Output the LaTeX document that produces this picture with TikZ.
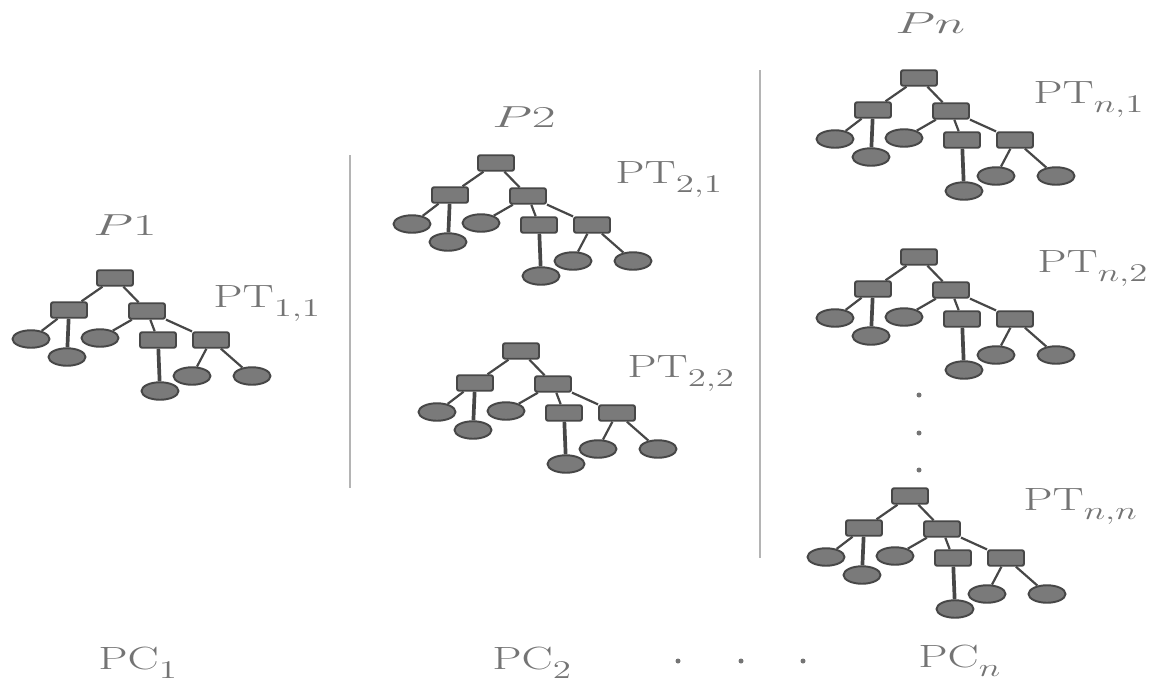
\documentclass[tikz,border=0pt]{standalone}
\usepackage{graphicx}
\usetikzlibrary{shapes.geometric}
\definecolor{labelgray}{HTML}{747474}
\definecolor{nodefill}{HTML}{7A7A7A}
\definecolor{nodeedge}{HTML}{474747}
\definecolor{sepgray}{HTML}{B4B4B4}
\tikzset{
  inner/.style={draw=nodeedge, fill=nodefill, line width=1.1pt, rectangle,
    rounded corners=1.2pt, minimum width=0.72cm, minimum height=0.31cm, inner sep=0pt},
  leaf/.style={draw=nodeedge, fill=nodefill, line width=1.1pt, ellipse,
    minimum width=0.74cm, minimum height=0.35cm, inner sep=0pt},
  branch/.style={draw=nodeedge, line width=1.25pt},
  stem/.style={draw=nodeedge, line width=2.1pt},
  lbl/.style={text=labelgray, anchor=base west, inner sep=0pt,
    font=\fontsize{18.3}{22}\selectfont},
  sep/.style={draw=sepgray, line width=1.1pt},
  dotmark/.style={circle, fill=labelgray, minimum size=0.1cm, inner sep=0pt}
}
% wide label lettering
\newcommand{\widetxt}[2][1.45]{\scalebox{#1}[1]{#2}}
% label with a lowered subscript
\newcommand{\sublab}[2]{\widetxt{#1\raisebox{-5.5pt}{\fontsize{14.5}{15}\selectfont #2}}}
% one parse tree, root at (#2,#3), node names prefixed by #1
\newcommand{\ptree}[3]{%
  \begin{scope}[shift={(#2,#3)}]
    \node[inner] (#1r)  at (0,0)   {};
    \node[inner] (#1a)  at (-46,32) {};
    \node[inner] (#1b)  at (32,33)  {};
    \node[leaf]  (#1a1) at (-84,61) {};
    \node[leaf]  (#1a2) at (-48,79) {};
    \node[leaf]  (#1b1) at (-15,60) {};
    \node[inner] (#1b2) at (43,62)  {};
    \node[inner] (#1b3) at (96,62)  {};
    \node[leaf]  (#1b21) at (45,113) {};
    \node[leaf]  (#1b31) at (77,98)  {};
    \node[leaf]  (#1b32) at (137,98) {};
    \draw[branch] (#1r) -- (#1a);
    \draw[branch] (#1r) -- (#1b);
    \draw[branch] (#1a) -- (#1a1);
    \draw[stem]   (#1a) -- (#1a2);
    \draw[branch] (#1b) -- (#1b1);
    \draw[branch] (#1b) -- (#1b2);
    \draw[branch] (#1b) -- (#1b3);
    \draw[stem]   (#1b2) -- (#1b21);
    \draw[branch] (#1b3) -- (#1b31);
    \draw[branch] (#1b3) -- (#1b32);
  \end{scope}%
}
\begin{document}
\begin{tikzpicture}[x=0.02cm, y=-0.02cm]
  \useasboundingbox (0,0) rectangle (1162,684);

  % column separators
  \coordinate (s1t) at (350,155);
  \coordinate (s1b) at (350,488);
  \coordinate (s2t) at (760,70);
  \coordinate (s2b) at (760,558);
  \draw[sep] (s1t) -- (s1b);
  \draw[sep] (s2t) -- (s2b);

  % trees
  \ptree{t11}{115}{278}
  \ptree{t21}{496}{163}
  \ptree{t22}{521}{351}
  \ptree{tn1}{919}{78}
  \ptree{tn2}{919}{257}
  \ptree{tnn}{910}{496}

  % peer labels
  \node[lbl] (p1) at (93,235) {\widetxt[1.7]{$P1$}};
  \node[lbl] (p2) at (492,127) {\widetxt[1.7]{$P2$}};
  \node[lbl] (pn) at (895,33) {\widetxt[1.7]{$Pn$}};

  % tree labels
  \node[lbl] (l11) at (213,307) {\sublab{PT}{1,1}};
  \node[lbl] (l21) at (615,183) {\sublab{PT}{2,1}};
  \node[lbl] (l22) at (627,377) {\sublab{PT}{2,2}};
  \node[lbl] (ln1) at (1033,103) {\sublab{PT}{$n$,1}};
  \node[lbl] (ln2) at (1037,272) {\sublab{PT}{$n$,2}};
  \node[lbl] (lnn) at (1023,510) {\sublab{PT}{$n$,$n$}};

  % vertical ellipsis between trees
  \node[dotmark] (vd1) at (919,395) {};
  \node[dotmark] (vd2) at (919,433) {};
  \node[dotmark] (vd3) at (919,470) {};

  % computer labels
  \node[lbl] (pc1) at (98,669) {\sublab{PC}{1}};
  \node[lbl] (pc2) at (492,669) {\sublab{PC}{2}};
  \node[lbl] (pcn) at (918,667) {\sublab{PC}{$n$}};
  \node[dotmark] (hd1) at (678,661) {};
  \node[dotmark] (hd2) at (741,661) {};
  \node[dotmark] (hd3) at (803,661) {};
\end{tikzpicture}
\end{document}
